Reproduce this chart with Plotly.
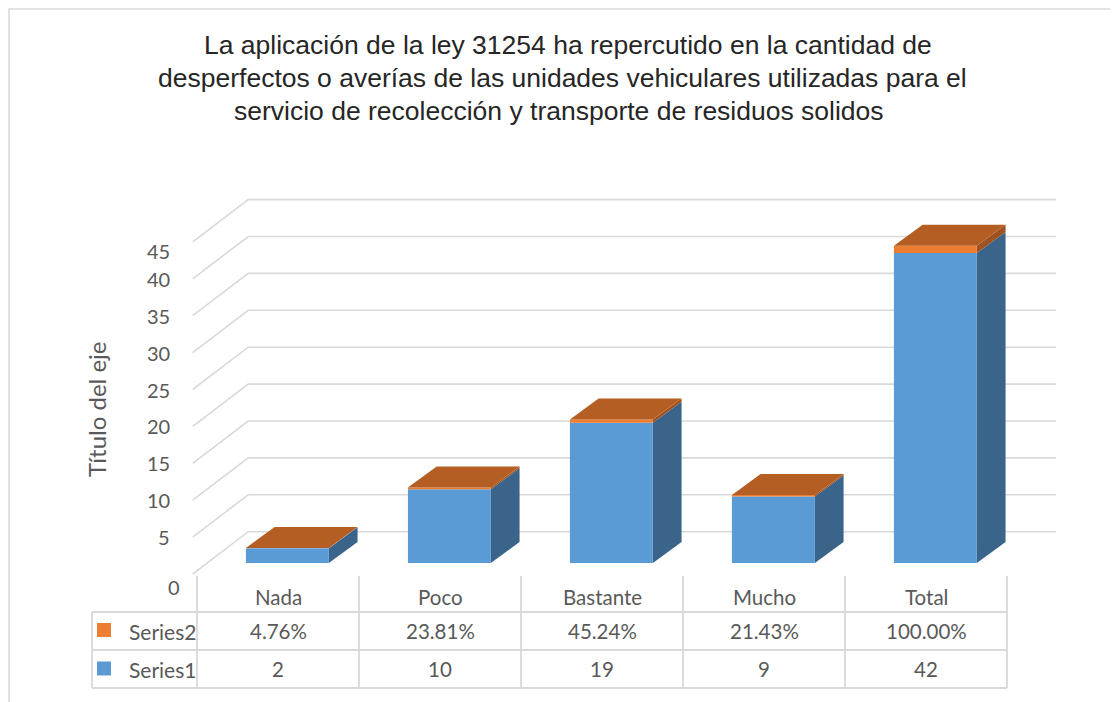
import plotly.graph_objects as go

# ---------------- data ----------------
categories = ["Nada", "Poco", "Bastante", "Mucho", "Total"]
series1 = [2, 10, 19, 9, 42]
series2 = [0.0476, 0.2381, 0.4524, 0.2143, 1.0]
series_names = ["Series1", "Series2"]
y_ticks = [0, 5, 10, 15, 20, 25, 30, 35, 40, 45]
title_lines = [
    "La aplicación de la ley 31254 ha repercutido en la cantidad de",
    "desperfectos o averías de las unidades vehiculares utilizadas para el",
    "servicio de recolección y transporte de residuos solidos",
]
y_title = "Título del eje"

# ---------------- geometry / style ----------------
PAGE_OFF = 8        # default body margin of the page
W, H = 1118 - PAGE_OFF, 702 - PAGE_OFF
CAT_PX = 162.0      # pixels per category
CAT0_PX = 278.0     # screen pixel of first category centre
VAL_PX = 7.38       # pixels per value unit
BASE_PX = 574.0     # screen pixel of value 0 on the front plane


def px2x(px):
    return (px - CAT0_PX) / CAT_PX


def py2y(py):
    return (BASE_PX - py) / VAL_PX


GRID = "#D9D9D9"
TXT = "#595959"
FONT = "Lato, Calibri, sans-serif"
C_BLUE, C_BLUE_SIDE = "#5B9BD5", "#3A6489"
C_OR, C_OR_SIDE, C_OR_TOP = "#ED7D31", "#9E521F", "#B45E23"

wall_x0 = px2x(192.7)
wall_dx = 55.5 / CAT_PX
wall_dy = 42.3 / VAL_PX
wall_x1 = px2x(1056)

bar_off = 0.058
bar_w = 0.512
bar_base = 11.0 / VAL_PX
bar_dx = 28.7 / CAT_PX
bar_dy = 21.0 / VAL_PX

fig = go.Figure()

# walls gridlines
gx, gy = [], []
for v in y_ticks:
    gx += [wall_x0, wall_x0 + wall_dx, wall_x1, None]
    gy += [v, v + wall_dy, v + wall_dy, None]
fig.add_trace(go.Scatter(x=gx, y=gy, mode="lines", line=dict(color=GRID, width=1.6),
                         hoverinfo="skip", showlegend=False))


def poly(xs, ys, color, name=None):
    fig.add_trace(go.Scatter(x=xs + [xs[0]], y=ys + [ys[0]], mode="lines", fill="toself",
                             fillcolor=color, line=dict(width=0, color=color), name=name,
                             hoverinfo="skip", showlegend=False))


xs_pos = list(range(len(categories)))
for i, (a, b) in enumerate(zip(series1, series2)):
    xl = xs_pos[i] + bar_off - bar_w / 2
    xr = xs_pos[i] + bar_off + bar_w / 2
    segs = [(0, a, C_BLUE, C_BLUE_SIDE, series_names[0]), (a, a + b, C_OR, C_OR_SIDE, series_names[1])]
    for lo, hi, fc, sc, nm in segs:
        y0, y1 = bar_base + lo, bar_base + hi
        poly([xr, xr + bar_dx, xr + bar_dx, xr], [y0, y0 + bar_dy, y1 + bar_dy, y1], sc)
        poly([xl, xr, xr, xl], [y0, y0, y1, y1], fc, nm)
    top = bar_base + a + b
    poly([xl, xr, xr + bar_dx, xl + bar_dx], [top, top, top + bar_dy, top + bar_dy], C_OR_TOP)

ann = []
# title
title_pos = [(568, 45), (562, 78), (559, 111)]
for line, (cx, cy) in zip(title_lines, title_pos):
    ann.append(dict(text=line, x=px2x(cx), y=py2y(cy), xref="x", yref="y",
                    showarrow=False, xanchor="center", yanchor="middle",
                    font=dict(family="Liberation Sans, Arial, sans-serif", size=26.5, color="#262626")))
# y tick labels
for v in y_ticks:
    xs_, ys_ = 0, 0
    if v == y_ticks[0]:
        xs_, ys_ = 10, -13
    if v == y_ticks[-1]:
        ys_ = -9
    ann.append(dict(text=str(v), x=px2x(172), y=v, xref="x", yref="y", showarrow=False,
                    xanchor="right", yanchor="middle", xshift=xs_, yshift=ys_,
                    font=dict(family=FONT, size=20, color=TXT)))
# y title
ann.append(dict(text=y_title, x=px2x(96), y=py2y(410), xref="x", yref="y", showarrow=False,
                textangle=-90, xanchor="center", yanchor="middle",
                font=dict(family=FONT, size=24, color=TXT)))

# data table
shapes = []
col_edges = [p - 0.5 for p in xs_pos] + [xs_pos[-1] + 0.5]
for e in col_edges:
    shapes.append(dict(type="line", x0=e, x1=e, y0=py2y(576), y1=py2y(688), xref="x", yref="y",
                       line=dict(color=GRID, width=1.8)))
for py in [612, 650, 688]:
    shapes.append(dict(type="line", x0=px2x(92), x1=col_edges[-1], y0=py2y(py), y1=py2y(py),
                       xref="x", yref="y", line=dict(color=GRID, width=1.8)))
shapes.append(dict(type="line", x0=px2x(92), x1=px2x(92), y0=py2y(612), y1=py2y(688),
                   xref="x", yref="y", line=dict(color=GRID, width=1.8)))

for i, c in enumerate(categories):
    ann.append(dict(text=c, x=xs_pos[i], y=py2y(597), xref="x", yref="y", showarrow=False,
                    font=dict(family=FONT, size=20.5, color=TXT)))
    ann.append(dict(text=f"{series2[i] * 100:.2f}%", x=xs_pos[i], y=py2y(631), xref="x", yref="y",
                    showarrow=False, font=dict(family=FONT, size=20.5, color=TXT)))
    ann.append(dict(text=str(series1[i]), x=xs_pos[i], y=py2y(669), xref="x", yref="y",
                    showarrow=False, font=dict(family=FONT, size=20.5, color=TXT)))

for name, color, py in [(series_names[1], C_OR, 630), (series_names[0], C_BLUE, 668.5)]:
    shapes.append(dict(type="rect", x0=px2x(97), x1=px2x(111), y0=py2y(py - 7), y1=py2y(py + 7),
                       xref="x", yref="y", line=dict(width=0), fillcolor=color))
    ann.append(dict(text=name, x=px2x(127), y=py2y(py + 1), xref="x", yref="y", showarrow=False,
                    xanchor="left", font=dict(family=FONT, size=21, color=TXT)))

# chart border (left and top edges visible)
shapes.append(dict(type="rect", x0=px2x(9), x1=px2x(1140), y0=py2y(720), y1=py2y(9),
                   xref="x", yref="y", line=dict(color=GRID, width=1.5),
                   fillcolor="rgba(0,0,0,0)", layer="below"))

fig.update_layout(
    width=W, height=H, margin=dict(l=0, r=0, t=0, b=0, pad=0),
    paper_bgcolor="white", plot_bgcolor="white",
    xaxis=dict(range=[px2x(PAGE_OFF), px2x(PAGE_OFF + W)], visible=False, fixedrange=True),
    yaxis=dict(range=[py2y(PAGE_OFF + H), py2y(PAGE_OFF)], visible=False, fixedrange=True),
    annotations=ann, shapes=shapes, showlegend=False,
)

fig.write_html("out.html")
